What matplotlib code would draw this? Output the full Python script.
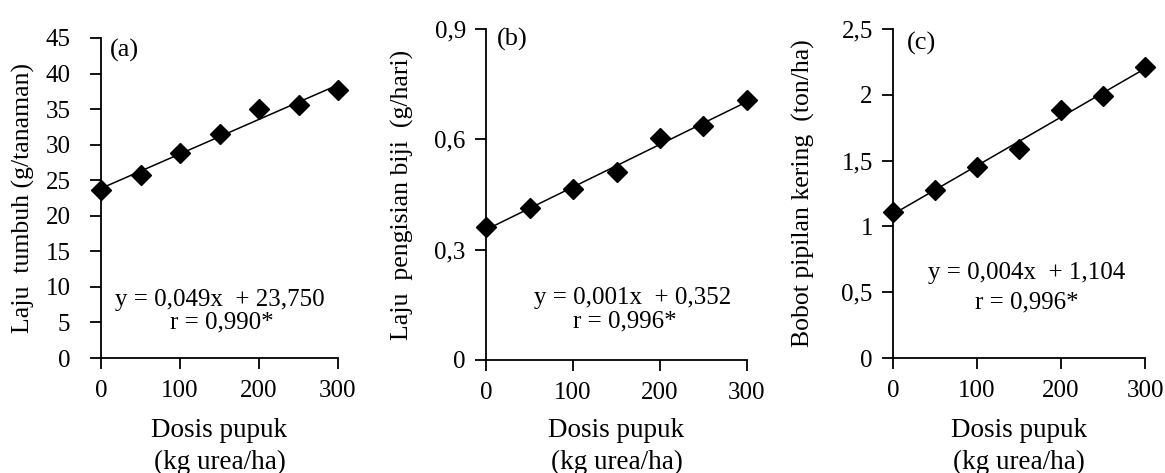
import numpy as np
import matplotlib
matplotlib.use("Agg")
import matplotlib.pyplot as plt

plt.rcParams['font.family'] = ['Liberation Serif', 'DejaVu Serif']

dose = [0, 50, 100, 150, 200, 250, 300]
laju_tumbuh = [23.6, 25.8, 28.8, 31.45, 35.0, 35.6, 37.65]
laju_pengisian = [0.362, 0.412, 0.466, 0.510, 0.604, 0.636, 0.708]
bobot_pipilan = [1.108, 1.280, 1.455, 1.590, 1.885, 1.994, 2.210]

x_ticks = [0, 100, 200, 300]
a_yticks = [0, 5, 10, 15, 20, 25, 30, 35, 40, 45]
a_ylabels = [str(v) for v in a_yticks]
b_yticks = [0, 0.3, 0.6, 0.9]
b_ylabels = ['0', '0,3', '0,6', '0,9']
c_yticks = [0, 0.5, 1, 1.5, 2, 2.5]
c_ylabels = ['0', '0,5', '1', '1,5', '2', '2,5']

ylabels = ['Laju  tumbuh (g/tanaman)', 'Laju  pengisian biji  (g/hari)', 'Bobot pipilan kering  (ton/ha)']
panel_tags = ['(a)', '(b)', '(c)']
equations = ['y = 0,049x  + 23,750', 'y = 0,001x  + 0,352', 'y = 0,004x  + 1,104']
r_texts = ['r = 0,990*', 'r = 0,996*', 'r = 0,996*']

W, H = 1165, 473
fig = plt.figure(figsize=(W / 100, H / 100), dpi=100)

# pixel boxes: left, right, top, bottom
boxes = [(101, 338, 38, 358), (486, 747, 29, 360), (893, 1145, 29, 358)]
series = [laju_tumbuh, laju_pengisian, bobot_pipilan]
yticks = [a_yticks, b_yticks, c_yticks]
ytl = [a_ylabels, b_ylabels, c_ylabels]
eq_pos = [(0.50, 0.181), (0.56, 0.187), (0.532, 0.258)]
r_pos = [(0.51, 0.1125), (0.533, 0.115), (0.532, 0.17)]
tag_pos = [(0.038, 0.962), (0.042, 0.967), (0.056, 0.957)]
ylab_x = [23, 402, 803]
ypads = [14, 6.5, 6.5]

for i in range(3):
    l, r, t, b = boxes[i]
    ax = fig.add_axes([l / W, 1 - b / H, (r - l) / W, (b - t) / H])
    ys = series[i]
    ax.plot(dose, ys, linestyle='none', marker='D', markersize=10,
            color='black', zorder=3, clip_on=False)
    coef = np.polyfit(dose, ys, 1)
    xl = np.array([dose[0], dose[-1]])
    ax.plot(xl, np.polyval(coef, xl), color='black', lw=1.1, zorder=2, clip_on=False)
    ax.set_xlim(0, 300)
    ax.set_ylim(yticks[i][0], yticks[i][-1])
    ax.set_xticks(x_ticks)
    ax.set_xticklabels([str(v) for v in x_ticks])
    ax.set_yticks(yticks[i])
    ax.set_yticklabels(ytl[i])
    for s in ['top', 'right']:
        ax.spines[s].set_visible(False)
    for s in ['left', 'bottom']:
        ax.spines[s].set_linewidth(1.3)
    ax.tick_params(direction='out', length=8, width=1.3, labelsize=18)
    ax.tick_params(axis='x', pad=8)
    ax.tick_params(axis='y', pad=ypads[i])
    ax.text(*eq_pos[i], equations[i], transform=ax.transAxes, ha='center', va='center', fontsize=18)
    ax.text(*r_pos[i], r_texts[i], transform=ax.transAxes, ha='center', va='center', fontsize=18)
    ax.text(*tag_pos[i], panel_tags[i], transform=ax.transAxes, ha='left', va='center', fontsize=19)
    cx = (l + r) / 2 / W
    fig.text(cx, 1 - 430 / H, 'Dosis pupuk', ha='center', va='center', fontsize=19.5)
    fig.text(cx, 1 - 462 / H, '(kg urea/ha)', ha='center', va='center', fontsize=19.5)
    fig.text(ylab_x[i] / W, 1 - (t + b) / 2 / H, ylabels[i], rotation=90, ha='center', va='center', fontsize=18.5)

fig.savefig('out.png', dpi=100)
